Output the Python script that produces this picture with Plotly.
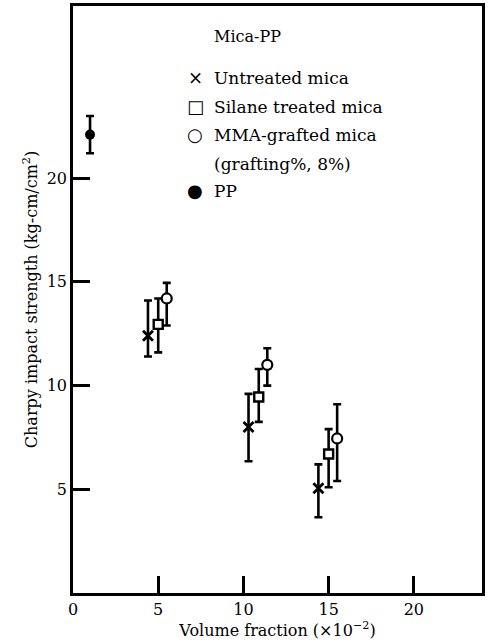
import plotly.graph_objects as go

# Data (volume fraction x10^-2, Charpy impact strength kg-cm/cm^2)
untreated_x = [4.4, 10.3, 14.4]
untreated_y = [12.4, 8.0, 5.05]
untreated_hi = [14.1, 9.6, 6.2]
untreated_lo = [11.4, 6.35, 3.65]

silane_x = [5.0, 10.9, 15.0]
silane_y = [12.95, 9.45, 6.7]
silane_hi = [14.2, 10.8, 7.9]
silane_lo = [11.6, 8.25, 5.1]

mma_x = [5.5, 11.4, 15.5]
mma_y = [14.2, 11.0, 7.45]
mma_hi = [14.95, 11.8, 9.1]
mma_lo = [12.9, 10.0, 5.4]

pp_x = [1.0]
pp_y = [22.1]
pp_hi = [23.0]
pp_lo = [21.2]

x_ticks = [0, 5, 10, 15, 20]
y_ticks = [5, 10, 15, 20]

legend_title = "Mica-PP"
legend_rows = [("×", "Untreated mica"), ("□", "Silane treated mica"),
               ("○", "MMA-grafted mica"), ("", "(grafting%, 8%)"), ("●", "PP")]

FONT = "DejaVu Serif"

def err(y, hi, lo):
    return dict(type="data", symmetric=False,
                array=[h - v for h, v in zip(hi, y)],
                arrayminus=[v - l for v, l in zip(y, lo)],
                color="black", thickness=2.6, width=4)

fig = go.Figure()
fig.add_trace(go.Scatter(x=untreated_x, y=untreated_y, mode="markers",
                         marker=dict(symbol="x-thin", size=10, line=dict(width=2.8, color="black")),
                         error_y=err(untreated_y, untreated_hi, untreated_lo)))
fig.add_trace(go.Scatter(x=silane_x, y=silane_y, mode="markers",
                         marker=dict(symbol="square", size=9, color="white", line=dict(width=2.4, color="black")),
                         error_y=err(silane_y, silane_hi, silane_lo)))
fig.add_trace(go.Scatter(x=mma_x, y=mma_y, mode="markers",
                         marker=dict(symbol="circle", size=10, color="white", line=dict(width=2.2, color="black")),
                         error_y=err(mma_y, mma_hi, mma_lo)))
fig.add_trace(go.Scatter(x=pp_x, y=pp_y, mode="markers",
                         marker=dict(symbol="circle", size=10, color="black"),
                         error_y=err(pp_y, pp_hi, pp_lo)))

# Legend as text
fig.add_annotation(x=8.15, y=26.85, xref="x", yref="y", text=legend_title, showarrow=False,
                   xanchor="left", yanchor="middle", font=dict(family=FONT, size=16, color="black"))
row_y = [24.83, 23.44, 22.09, 20.69, 19.39]
for (sym, label), yy in zip(legend_rows, row_y):
    if sym:
        fig.add_annotation(x=7.16, y=yy, xref="x", yref="y", text=sym, showarrow=False,
                           xanchor="center", yanchor="middle", font=dict(family=FONT, size=18, color="black"))
    fig.add_annotation(x=8.15, y=yy, xref="x", yref="y", text=label, showarrow=False,
                       xanchor="left", yanchor="middle", font=dict(family=FONT, size=17, color="black"))

fig.update_layout(
    width=488, height=642,
    margin=dict(l=73, r=3, t=5, b=49),
    paper_bgcolor="white", plot_bgcolor="white",
    showlegend=False,
    font=dict(family=FONT, size=16, color="black"),
)
fig.update_xaxes(range=[0, 24], tickvals=x_ticks, ticktext=[str(v) for v in x_ticks],
                 ticks="inside", ticklen=17, tickwidth=2.5, tickcolor="black",
                 showline=True, linewidth=2.5, linecolor="black", mirror=True,
                 showgrid=False, zeroline=False,
                 title=dict(text="Volume fraction (×10<sup>−2</sup>)", font=dict(size=16), standoff=2),
                 tickfont=dict(size=16))
fig.update_yaxes(range=[0, 28.3], tickvals=y_ticks, ticktext=[str(v) for v in y_ticks],
                 ticks="inside", ticklen=17, tickwidth=2.5, tickcolor="black",
                 showline=True, linewidth=2.5, linecolor="black", mirror=True,
                 showgrid=False, zeroline=False,
                 title=dict(text="Charpy impact strength (kg-cm/cm<sup>2</sup>)", font=dict(size=16), standoff=6),
                 tickfont=dict(size=16))

fig.write_html("out.html", config={"displayModeBar": False},
               post_script="document.body.style.margin='0';document.body.style.overflow='hidden';")
